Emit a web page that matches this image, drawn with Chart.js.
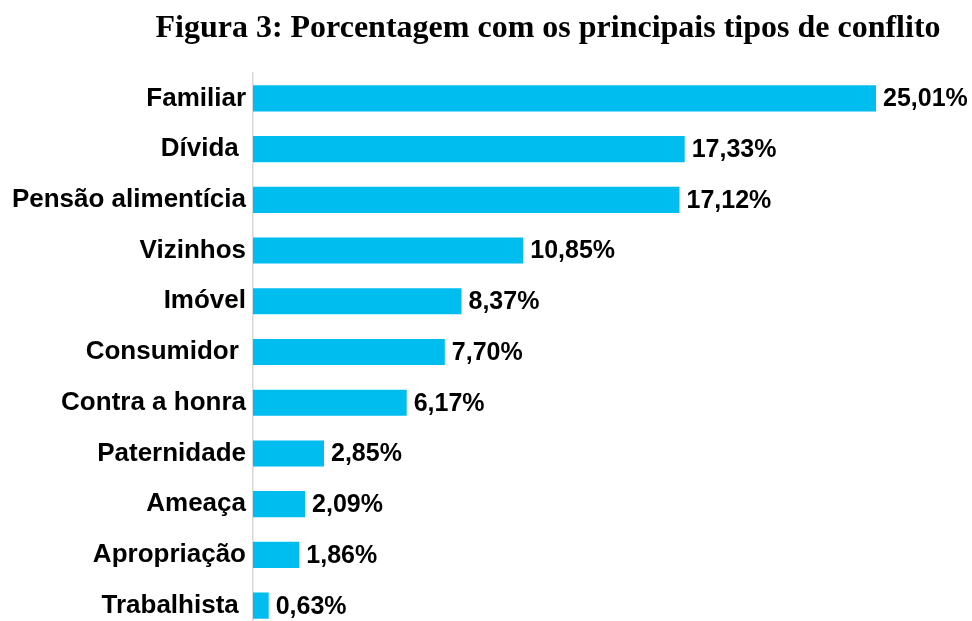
<!DOCTYPE html>
<html>
<head>
<meta charset="utf-8">
<script src="https://cdn.jsdelivr.net/npm/chart.js@4"></script>
<style>
  html, body { margin: 0; padding: 0; background: #fff; overflow: hidden; }
  #wrap { width: 972px; height: 621px; overflow: hidden; }
  #c { display: block; width: 972px; height: 632px; }
</style>
</head>
<body>
<div id="wrap"><canvas id="c" width="972" height="632"></canvas></div>
<script>
const titleText = 'Figura 3: Porcentagem com os principais tipos de conflito';
const categories = ['Familiar', 'Dívida ', 'Pensão alimentícia', 'Vizinhos', 'Imóvel', 'Consumidor ', 'Contra a honra', 'Paternidade', 'Ameaça', 'Apropriação', 'Trabalhista '];
const percentages = [25.01, 17.33, 17.12, 10.85, 8.37, 7.70, 6.17, 2.85, 2.09, 1.86, 0.63];

const valueLabels = {
  id: 'valueLabels',
  afterDatasetsDraw(chart) {
    const ctx = chart.ctx;
    const meta = chart.getDatasetMeta(0);
    ctx.save();
    ctx.font = 'bold 25px "Liberation Sans", Arial, sans-serif';
    ctx.fillStyle = '#000';
    ctx.textAlign = 'left';
    ctx.textBaseline = 'middle';
    meta.data.forEach((bar, i) => {
      const v = chart.data.datasets[0].data[i];
      ctx.fillText(v.toFixed(2).replace('.', ',') + '%', bar.x + 7, bar.y + 1);
    });
    ctx.restore();
  }
};

const titlePlugin = {
  id: 'customTitle',
  afterDraw(chart) {
    const ctx = chart.ctx;
    ctx.save();
    ctx.font = 'bold 32px "Liberation Serif", "Times New Roman", serif';
    ctx.fillStyle = '#000';
    ctx.textAlign = 'center';
    ctx.textBaseline = 'alphabetic';
    ctx.fillText(titleText, 548, 37);
    ctx.restore();
  }
};

new Chart(document.getElementById('c'), {
  type: 'bar',
  data: {
    labels: categories,
    datasets: [{
      data: percentages,
      backgroundColor: '#00BDEF',
      borderWidth: 0,
      categoryPercentage: 1,
      barPercentage: 0.515
    }]
  },
  options: {
    indexAxis: 'y',
    responsive: false,
    animation: false,
    layout: { padding: { top: 73, right: 21.5, bottom: 1, left: 0 } },
    plugins: { legend: { display: false }, tooltip: { enabled: false }, title: { display: false } },
    scales: {
      x: { display: false, min: 0, max: 28 },
      y: {
        grid: { display: false, drawTicks: false },
        border: { display: true, color: '#d9d9d9', width: 1.5 },
        ticks: {
          color: '#000',
          padding: 7,
          font: { family: '"Liberation Sans", Arial, sans-serif', size: 26, weight: 'bold' }
        },
        afterFit(scale) {
          scale.width = 253;
          scale.paddingTop = 0;
          scale.paddingBottom = 0;
        }
      }
    }
  },
  plugins: [valueLabels, titlePlugin]
});
</script>
</body>
</html>
